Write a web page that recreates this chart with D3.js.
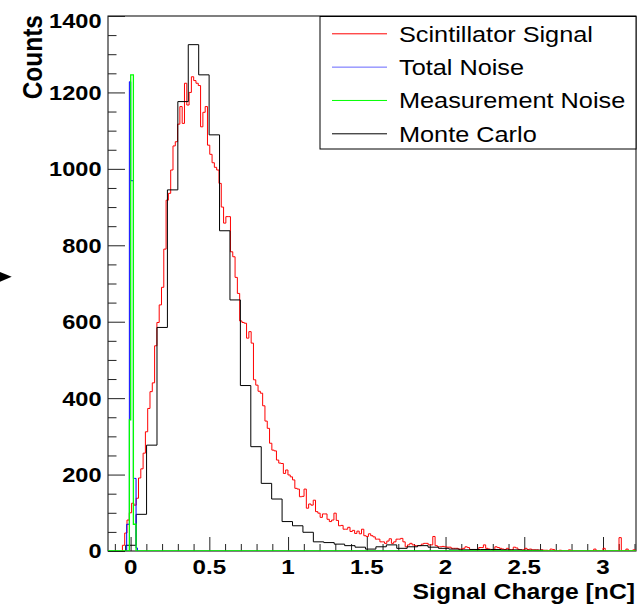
<!DOCTYPE html>
<html><head><meta charset="utf-8">
<script src="https://cdn.jsdelivr.net/npm/d3@7"></script>
<style>html,body{margin:0;padding:0;background:#fff;} svg{display:block}</style>
</head><body><svg id="chart" width="637" height="607"></svg>
<script>
// ---------- data ----------
const yTickValues = [0, 200, 400, 600, 800, 1000, 1200, 1400];
const yTickLabels = ["0", "200", "400", "600", "800", "1000", "1200", "1400"];
const xTickValues = [0, 0.5, 1, 1.5, 2, 2.5, 3];
const xTickLabels = ["0", "0.5", "1", "1.5", "2", "2.5", "3"];
const legendLabels = ["Scintillator Signal", "Total Noise", "Measurement Noise", "Monte Carlo"];
const seriesColors = ["#ff0000", "#0000ff", "#00ff00", "#000000"];

// Scintillator signal (fine bins)
const redStart = -0.052, redWidth = 0.0146;
const redValues = [
  15, 47, 81, 100, 125, 120, 138, 191, 215, 256,
  312, 373, 417, 440, 537, 598, 644, 690, 790, 918,
  936, 997, 1060, 1071, 1117, 1163, 1119, 1224, 1167, 1200,
  1241, 1231, 1224, 1218, 1110, 1148, 1163, 1062, 1038, 1016,
  1004, 997, 962, 900, 858, 875, 875, 783, 770, 716,
  674, 602, 598, 596, 557, 574, 544, 448, 434, 418,
  413, 380, 340, 321, 282, 264, 262, 238, 230, 229,
  203, 212, 199, 194, 186, 164, 162, 142, 143, 162,
  112, 123, 120, 133, 103, 99, 88, 97, 97, 83,
  77, 81, 99, 80, 66, 67, 57, 57, 62, 51,
  54, 46, 52, 45, 57, 40, 38, 45, 40, 37,
  31, 31, 24, 24, 20, 26, 32, 20, 24, 31,
  31, 33, 24, 11, 16, 20, 16, 14, 14, 14,
  18, 20, 20, 16, 16, 38, 14, 11, 11, 12,
  11, 10, 10, 7, 7, 7, 5, 5, 7, 11,
  9, 4, 4, 4, 3, 9, 9, 16, 7, 5,
  4, 3, 11, 9, 7, 5, 4, 7, 3, 3,
  10, 8, 4, 3, 3, 7, 4, 5, 3, 3,
  3, 2, 3, 2, 2, 0, 5, 4, 0, 0,
  2, 0, 0, 0, 3, 0, 0, 0, 0, 0,
  0, 0, 0, 0, 0, 5, 0, 0, 0, 7,
  0, 0, 0, 0, 0, 0, 35, 0, 0, 5,
  0, 0, 3
];

// Monte Carlo (coarse bins)
const mcStart = -0.031, mcWidth = 0.0662;
const mcValues = [
  15, 96, 277, 585, 945, 1176, 1325, 1246, 1089, 838,
  657, 433, 273, 177, 136, 77, 66, 49, 24, 22,
  18, 14, 10, 5, 11, 16, 7, 11, 14, 10,
  7, 5, 3, 4, 4, 4, 3, 3, 2, 2
];

// Noise histograms (very fine bins near zero)
const noiseStart = -0.0248, noiseWidth = 0.0085;
const totalNoiseValues = [70, 70, 1228, 969, 969, 190, 190, 8];
const measNoiseValues = [0, 0, 343, 1246, 1246, 70, 70, 0];

// ---------- layout ----------
const W = 637, H = 607;
const frame = {left: 108, top: 16, right: 636, bottom: 551};
const stretch = 1.15;

const svg = d3.select("#chart");
const x = d3.scaleLinear().domain([-0.1435, 3.2095]).range([frame.left, frame.right]);
const y = d3.scaleLinear().domain([0, 1400]).range([frame.bottom, frame.top]);

svg.append("defs").append("clipPath").attr("id", "clip")
  .append("rect").attr("x", frame.left).attr("y", frame.top)
  .attr("width", frame.right - frame.left).attr("height", frame.bottom - frame.top);

// frame
svg.append("rect").attr("x", frame.left).attr("y", frame.top)
  .attr("width", frame.right - frame.left).attr("height", frame.bottom - frame.top)
  .attr("fill", "none").attr("stroke", "#000").attr("stroke-width", 1);

// axes ticks (inward)
const yMinor = d3.range(0, 1401, 50).filter(v => v % 200 !== 0);
const xMinor = d3.range(-1, 33).map(i => i / 10).filter(v => Math.abs(v * 2 - Math.round(v * 2)) > 1e-6);

function styleAxis(g) {
  g.select(".domain").remove();
  g.selectAll("line").attr("stroke", "#222").attr("stroke-width", 1);
  g.selectAll("text").remove();
}
svg.append("g").attr("transform", `translate(${frame.left},0)`)
  .call(d3.axisRight(y).tickValues(yTickValues).tickSize(17).tickFormat("")).call(styleAxis);
svg.append("g").attr("transform", `translate(${frame.left},0)`)
  .call(d3.axisRight(y).tickValues(yMinor).tickSize(8.5).tickFormat("")).call(styleAxis);
svg.append("g").attr("transform", `translate(0,${frame.bottom})`)
  .call(d3.axisTop(x).tickValues(xTickValues).tickSize(14).tickFormat("")).call(styleAxis);
svg.append("g").attr("transform", `translate(0,${frame.bottom})`)
  .call(d3.axisTop(x).tickValues(xMinor).tickSize(7).tickFormat("")).call(styleAxis);

// text helper (horizontally stretched like the reference)
function addText(px, py, str, opts) {
  const t = svg.append("text")
    .attr("transform", `translate(${px},${py}) scale(${stretch},1)` + (opts.rotate ? ` rotate(${opts.rotate})` : ""))
    .attr("font-family", "Liberation Sans, Arial, Helvetica, sans-serif")
    .attr("font-size", opts.size)
    .attr("font-weight", opts.weight || "normal")
    .attr("text-anchor", opts.anchor || "start")
    .attr("fill", "#000")
    .text(str);
  return t;
}

// y tick labels
yTickValues.forEach((v, i) => {
  const off = (v === 1400) ? 12.3 : 7.4;
  addText(101.5, y(v) + off, yTickLabels[i], {size: 20.5, weight: "bold", anchor: "end"});
});
// x tick labels
xTickValues.forEach((v, i) => {
  addText(x(v), 574, xTickLabels[i], {size: 21, weight: "bold", anchor: "middle"});
});
// axis titles
addText(635, 599, "Signal Charge [nC]", {size: 21.5, weight: "bold", anchor: "end"});
addText(41.5, 15, "Counts", {size: 24.5, weight: "bold", anchor: "end", rotate: -90});

// histograms
function histPath(start, width, values, full) {
  let p = full ? `M${x.range()[0]},${y(0)}H${x(start)}` : `M${x(start)},${y(0)}`;
  values.forEach((v, i) => { p += `V${y(v)}H${x(start + (i + 1) * width)}`; });
  p += `V${y(0)}`;
  if (full) p += `H${x.range()[1]}`;
  return p;
}
const plot = svg.append("g").attr("clip-path", "url(#clip)");
plot.append("path").attr("d", histPath(redStart, redWidth, redValues, false))
  .attr("fill", "none").attr("stroke", seriesColors[0]).attr("stroke-width", 1);
plot.append("path").attr("d", histPath(mcStart, mcWidth, mcValues, false))
  .attr("fill", "none").attr("stroke", seriesColors[3]).attr("stroke-width", 1);
plot.append("path").attr("d", histPath(noiseStart, noiseWidth, totalNoiseValues, false))
  .attr("fill", "none").attr("stroke", seriesColors[1]).attr("stroke-width", 1);
plot.append("path").attr("d", histPath(noiseStart, noiseWidth, measNoiseValues, true))
  .attr("fill", "none").attr("stroke", seriesColors[2]).attr("stroke-width", 1.3);

// legend
const lg = {x0: 320, y0: 16.5, x1: 636, y1: 149};
svg.append("rect").attr("x", lg.x0).attr("y", lg.y0).attr("width", lg.x1 - lg.x0).attr("height", lg.y1 - lg.y0)
  .attr("fill", "#fff").attr("stroke", "#000").attr("stroke-width", 1);
const legendY = d3.scalePoint().domain(legendLabels).range([33.3, 133.3]);
legendLabels.forEach((lab, i) => {
  svg.append("line").attr("x1", 332).attr("x2", 387)
    .attr("y1", legendY(lab) + 0.5).attr("y2", legendY(lab) + 0.5)
    .attr("stroke", seriesColors[i]).attr("stroke-width", 1).attr("stroke-opacity", i === 1 ? 0.6 : 1);
  addText(399, legendY(lab) + 8.2, lab, {size: 22, anchor: "start"});
});

// small arrow marker at the left edge
svg.append("path").attr("d", "M0,272L11.7,276.7L0,281.7Z").attr("fill", "#000");
</script></body></html>
